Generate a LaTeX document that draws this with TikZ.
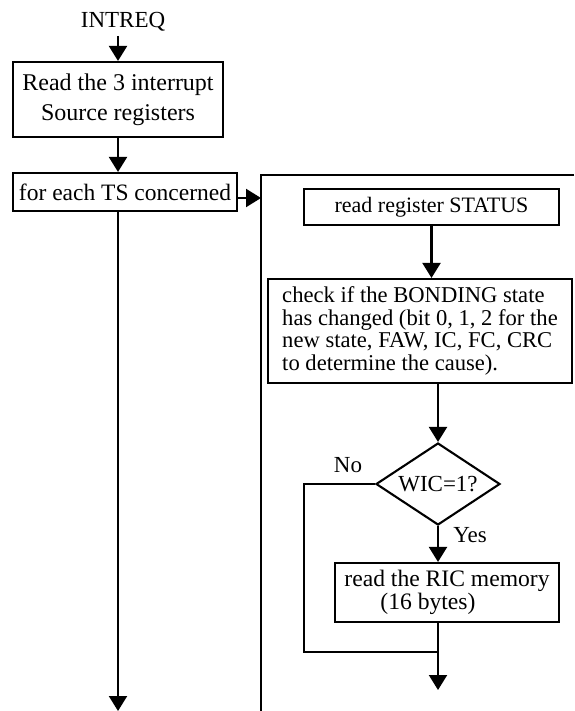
\documentclass[tikz,border=0pt]{standalone}
\usepackage{fontspec}
\setmainfont{Liberation Serif}
\usetikzlibrary{shapes.geometric,arrows.meta}
% fixed baseline distances inside the multi-line boxes
\lineskiplimit=-20pt
\begin{document}
\begin{tikzpicture}[x=1pt,y=-1pt,
  line width=2.1pt,
  box/.style={draw, rectangle, inner sep=0pt},
  flow/.style={-{Triangle[length=15pt,width=18pt]}},
  big/.style={font=\fontsize{23}{30}\selectfont},
]
\useasboundingbox (0,0) rectangle (574,711);

% left column
\node[big] (intreq) at (123,22) {INTREQ};
\node[box, font=\fontsize{24}{30}\selectfont, minimum width=210pt, minimum height=75pt, align=center] (b1) at (118,99.5)
  {Read the 3 interrupt\\Source registers};
\node[box, font=\fontsize{23.5}{30}\selectfont, minimum width=224pt, minimum height=38pt] (b2) at (125,192)
  {for each TS concerned};
\coordinate (mainEnd) at (118,711);

\draw[flow] (intreq.south -| b1.north) -- (b1.north);
\draw[flow] (b1.south) -- (b1.south |- b2.north);
\draw[flow] (b1.south |- b2.south) -- (mainEnd);

% frame of the loop body
\coordinate (fTL) at (261,175);
\coordinate (fTR) at (574,175);
\coordinate (fBL) at (261,711);
\coordinate (fIn) at (261,198);
\draw (fTR) -- (fTL) -- (fBL);
\draw[flow] (b2.east |- fIn) -- (fIn);

% loop body
\node[box, font=\fontsize{22}{24}\selectfont, minimum width=255pt, minimum height=36pt] (s1) at (431.5,207)
  {read register STATUS};
\node[box, minimum width=304pt, minimum height=104pt, align=left,
  font=\fontsize{22.6}{22.4}\selectfont] (s2) at (420,331)
  {check if the BONDING state\\has changed (bit 0, 1, 2 for the\\new state, FAW, IC, FC, CRC\\to determine the cause).};
\node[draw, diamond, aspect=1.5, minimum width=124pt, minimum height=82pt, inner sep=0pt, big] (d) at (438,484)
  {WIC=1?};
\node[box, minimum width=224pt, minimum height=59pt, align=left, font=\fontsize{23.6}{23}\selectfont] (r) at (447,592.5)
  {read the RIC memory\\\hspace*{36pt}(16 bytes)};
\node[big] (no) at (348,465) {No};
\node[big] (yes) at (470,535) {Yes};

\coordinate (noL) at (304,652);
\coordinate (join) at (438,652);
\coordinate (outEnd) at (438,690);

\draw[flow] (s1.south) -- (s1.south |- s2.north);
\draw[flow] (s2.south -| d.north) -- (d.north);
\draw[flow] (d.south) -- (d.south |- r.north);
\draw (d.west) -| (noL) -- (join);
\draw (r.south -| join) -- (join);
\draw[flow] (join) -- (outEnd);
\end{tikzpicture}
\end{document}
